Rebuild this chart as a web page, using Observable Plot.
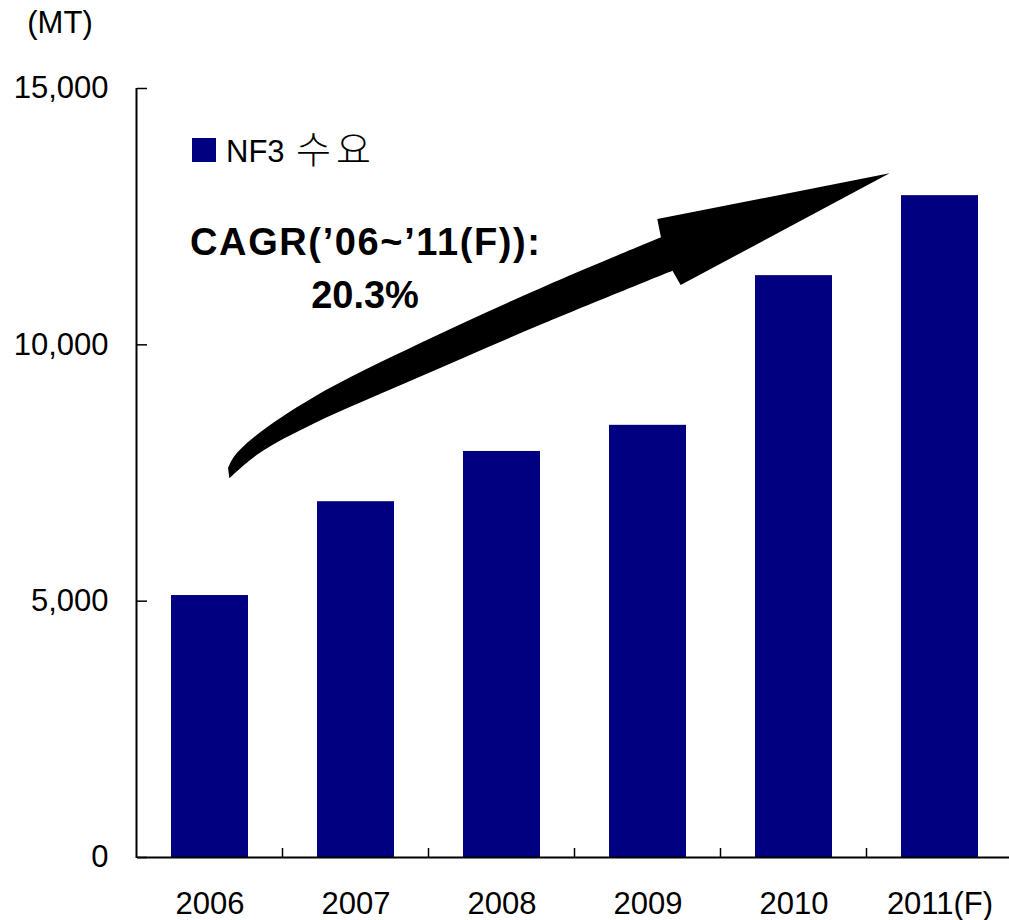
<!DOCTYPE html>
<html>
<head>
<meta charset="utf-8">
<script src="https://cdn.jsdelivr.net/npm/d3@7"></script>
<script src="https://cdn.jsdelivr.net/npm/@observablehq/plot@0.6"></script>
<style>
  html, body { margin: 0; padding: 0; background: #fff; overflow: hidden; }
  #chart svg { display: block; }
</style>
</head>
<body>
<div id="chart"></div>
<script>
// ---- data ----
const years = ["2006", "2007", "2008", "2009", "2010", "2011(F)"];
const demand = [5110, 6940, 7920, 8430, 11350, 12910];
const yTicks = [0, 5000, 10000, 15000];
const seriesLatin = "NF3";
const seriesKorean = "수요";
const unitLabel = "(MT)";
const cagrLines = ["CAGR(’06~’11(F)):", "20.3%"];
// arrow outline (annotation) in [bar-index offset from 2006 centre, MT]
const arrowUpper = [[0.127, 7588], [0.167, 7808], [0.308, 8198], [0.718, 8979], [1.441, 10020], [2.290, 11124], [3.092, 12088]];
const arrowHead = [[3.067, 12445], [4.658, 13336], [3.227, 11157], [3.171, 11436]];
const arrowLower = [[3.171, 11436], [2.290, 10410], [1.441, 9369], [0.718, 8460], [0.340, 7875], [0.136, 7387]];

const data = years.map((y, i) => ({year: y, value: demand[i]}));
const font = "'Liberation Sans', Arial, 'Noto Sans CJK KR', sans-serif";
const krFont = "'Noto Sans CJK KR', sans-serif";

const plot = Plot.plot({
  width: 1009,
  height: 920,
  marginTop: 88,
  marginBottom: 63,
  marginLeft: 137,
  marginRight: 0,
  style: {fontFamily: font, fontSize: "31px", color: "#000", background: "#fff"},
  x: {domain: years, range: [137, 1013], paddingInner: 0.47, paddingOuter: 0.235},
  y: {domain: [0, 15000]},
  marks: [
    Plot.barY(data, {x: "year", y: "value", fill: "#000080"}),
    Plot.ruleY([0], {stroke: "#000", strokeWidth: 2}),
    Plot.axisY({ticks: yTicks, tickSize: -10, tickPadding: 39, tickFormat: d3.format(","), label: null, fontSize: 31, strokeWidth: 1.5}),
    Plot.axisX({tickSize: 0, tickPadding: 34, label: null, fontSize: 31})
  ]
});

const sx = plot.scale("x");
const sy = plot.scale("y");
const svg = d3.select(plot);
const step = sx.step;
const bw = sx.bandwidth;
const c0 = sx.apply(years[0]) + bw / 2;
const px = ([i, v]) => [c0 + i * step, sy.apply(v)];

// y axis line
const x0 = 136.5;
svg.append("line").attr("x1", x0).attr("x2", x0)
  .attr("y1", sy.apply(yTicks[yTicks.length - 1])).attr("y2", sy.apply(0) + 1)
  .attr("stroke", "#000").attr("stroke-width", 2);

// x boundary ticks pointing up
for (let i = 1; i < years.length; i++) {
  const xb = sx.apply(years[i]) - (step - bw) / 2;
  svg.append("line").attr("x1", xb).attr("x2", xb)
    .attr("y1", sy.apply(0)).attr("y2", sy.apply(0) - 9)
    .attr("stroke", "#000").attr("stroke-width", 1.5);
}

// arrow
const curve = d3.line().curve(d3.curveCatmullRom.alpha(0.5));
const up = arrowUpper.map(px), head = arrowHead.map(px), low = arrowLower.map(px);
const upPath = curve(up);
const lowPath = curve(low).replace(/^M/, "L");
const headPath = head.map(p => "L" + p[0] + "," + p[1]).join("");
svg.append("path").attr("d", upPath + headPath + lowPath + "Z").attr("fill", "#000");

const addText = (str, x, y, size, anchor, weight) => {
  const t = svg.append("text").attr("x", x).attr("y", y)
    .style("font-size", size + "px").style("font-family", font)
    .style("text-anchor", anchor).style("font-weight", weight || "normal")
    .attr("fill", "#000").text(str);
  return t;
};

// unit label
addText(unitLabel, 60, 33, 31, "middle");

// legend
svg.append("rect").attr("x", 192).attr("y", 138).attr("width", 24).attr("height", 24).attr("fill", "#000080");
const leg = addText(seriesLatin, 226, 161.5, 31, "start");
leg.append("tspan").attr("x", 296).attr("y", 163).style("font-family", krFont).style("font-size", "38px")
  .style("font-weight", 300).style("letter-spacing", "5px").text(seriesKorean);

// CAGR annotation
addText(cagrLines[0], 365, 255, 38, "middle", "bold")
  .attr("textLength", 350).attr("lengthAdjust", "spacing");
addText(cagrLines[1], 365, 308, 38, "middle", "bold");

document.getElementById("chart").appendChild(plot);
</script>
</body>
</html>
